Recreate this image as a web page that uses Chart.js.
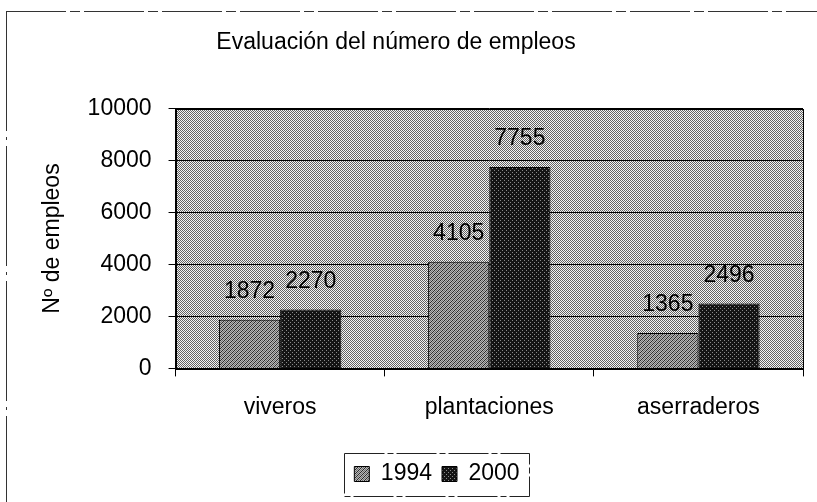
<!DOCTYPE html>
<html>
<head>
<meta charset="utf-8">
<script src="https://cdn.jsdelivr.net/npm/chart.js@4.4.1/dist/chart.umd.min.js"></script>
<style>
  html, body { margin: 0; padding: 0; background: #fff; }
</style>
</head>
<body>
<canvas id="myChart" width="817" height="502"></canvas>
<script>
const categories = ["viveros", "plantaciones", "aserraderos"];
const seriesNames = ["1994", "2000"];
const empleos1994 = [1872, 4105, 1365];
const empleos2000 = [2270, 7755, 2496];
const yTicks = [0, 2000, 4000, 6000, 8000, 10000];

const FONT = "'Liberation Sans', Arial, sans-serif";
const FS = 23;
Chart.defaults.font.family = FONT;
Chart.defaults.font.size = FS;
Chart.defaults.color = '#000';

// small dithered tiles, like the scanned excel fills
function makePattern(w, h, fn) {
  const c = document.createElement('canvas');
  c.width = w; c.height = h;
  const g = c.getContext('2d');
  for (let y = 0; y < h; y++) {
    for (let x = 0; x < w; x++) {
      g.fillStyle = fn(x, y);
      g.fillRect(x, y, 1, 1);
    }
  }
  return g.createPattern(c, 'repeat');
}
const plotFill = makePattern(2, 2, (x, y) => (x + y) % 2 ? '#f4f4f4' : '#626262');
const fill1994 = makePattern(4, 4, (x, y) => (x + y) % 4 === 0 ? '#2a2a2a' : ((x + y) % 2 ? '#b8b8b8' : '#707070'));
const fill2000 = makePattern(4, 4, (x, y) => ((x % 4 === 0 && y % 4 === 0) || (x % 4 === 2 && y % 4 === 2)) ? '#8a8a8a' : '#141414');

const chartFrame = {
  id: 'chartFrame',
  beforeDraw(chart) {
    const ctx = chart.ctx, a = chart.chartArea;
    ctx.save();
    ctx.fillStyle = '#fff';
    ctx.fillRect(0, 0, chart.width, chart.height);
    ctx.fillStyle = plotFill;
    ctx.fillRect(a.left, a.top, a.right - a.left, a.bottom - a.top);
    // outer frame of the pasted chart
    ctx.strokeStyle = '#333';
    ctx.lineWidth = 1;
    ctx.setLineDash([60, 4, 10, 4]);
    ctx.beginPath();
    ctx.moveTo(6, 11.5); ctx.lineTo(chart.width, 11.5);
    ctx.stroke();
    ctx.setLineDash([120, 6, 3, 6]);
    ctx.beginPath();
    ctx.moveTo(6.5, 11); ctx.lineTo(6.5, chart.height);
    ctx.stroke();
    ctx.restore();
  },
  afterLayout(chart) {
    // legend sits a bit right of center and lower than chart.js puts it
    const l = chart.legend;
    const dx = 437 - (l.left + l.right) / 2;
    const dy = 474 - (l.top + l.bottom) / 2;
    l.left += dx; l.right += dx;
    l.top += dy; l.bottom += dy;
    // title is a little left of center
    const t = chart.titleBlock;
    t.left -= 15; t.right -= 15;
  },
  afterDatasetsDraw(chart) {
    const ctx = chart.ctx, a = chart.chartArea;
    ctx.save();
    ctx.strokeStyle = '#000';
    ctx.lineWidth = 1;
    ctx.strokeRect(Math.round(a.left) + 0.5, Math.round(a.top) + 0.5,
      Math.round(a.right - a.left), Math.round(a.bottom - a.top));
    ctx.font = FS + 'px ' + FONT;
    ctx.fillStyle = '#000';
    ctx.textAlign = 'center';
    ctx.textBaseline = 'middle';
    chart.data.datasets.forEach((ds, i) => {
      chart.getDatasetMeta(i).data.forEach((bar, j) => {
        ctx.fillText(ds.data[j], bar.x, bar.y - 28);
      });
    });
    ctx.restore();
  },
  afterDraw(chart) {
    const boxes = chart.legend.legendHitBoxes;
    if (!boxes || !boxes.length) return;
    const left = Math.min(...boxes.map(b => b.left));
    const right = Math.max(...boxes.map(b => b.left + b.width));
    const mid = boxes[0].top + boxes[0].height / 2;
    const ctx = chart.ctx;
    ctx.save();
    ctx.strokeStyle = '#222';
    ctx.lineWidth = 1;
    ctx.setLineDash([40, 3, 6, 3]);
    ctx.strokeRect(Math.round(left - 10) + 0.5, Math.round(mid - 21) + 0.5,
      Math.round(right - left + 20), 43);
    ctx.restore();
  }
};

const ctx = document.getElementById('myChart').getContext('2d');
const myChart = new Chart(ctx, {
  type: 'bar',
  data: {
    labels: categories,
    datasets: [{
      label: seriesNames[0],
      data: empleos1994,
      backgroundColor: fill1994,
      borderColor: '#000',
      borderWidth: 1,
      categoryPercentage: 0.585,
      barPercentage: 1.0
    }, {
      label: seriesNames[1],
      data: empleos2000,
      backgroundColor: fill2000,
      borderColor: '#000',
      borderWidth: 1,
      categoryPercentage: 0.585,
      barPercentage: 1.0
    }]
  },
  options: {
    responsive: false,
    animation: false,
    devicePixelRatio: 1,
    layout: {
      padding: { top: 10, left: 19, right: 14, bottom: 21 }
    },
    plugins: {
      title: {
        display: true,
        text: 'Evaluación del número de empleos',
        color: '#000',
        font: { size: FS, weight: 'normal' },
        padding: { top: 19, bottom: 52 }
      },
      legend: {
        position: 'bottom',
        labels: {
          boxWidth: 15,
          boxHeight: 15,
          padding: 10,
          color: '#000',
          font: { size: FS }
        }
      },
      tooltip: { enabled: false }
    },
    scales: {
      x: {
        grid: {
          offset: true,
          drawOnChartArea: false,
          color: '#000',
          tickColor: '#000',
          tickLength: 8
        },
        border: { color: '#000' },
        ticks: { color: '#000', padding: 17, maxRotation: 0, font: { size: FS } }
      },
      y: {
        min: yTicks[0],
        max: yTicks[yTicks.length - 1],
        ticks: {
          stepSize: yTicks[1] - yTicks[0],
          color: '#000',
          padding: 17,
          font: { size: FS },
          callback: function(value) {
            return String(value);
          }
        },
        grid: { color: '#000', tickColor: '#000', tickLength: 7 },
        border: { color: '#000' },
        title: {
          display: true,
          text: 'Nº de empleos',
          color: '#000',
          font: { size: FS },
          padding: { top: 20, bottom: 4 }
        }
      }
    }
  },
  plugins: [chartFrame]
});
</script>
</body>
</html>
